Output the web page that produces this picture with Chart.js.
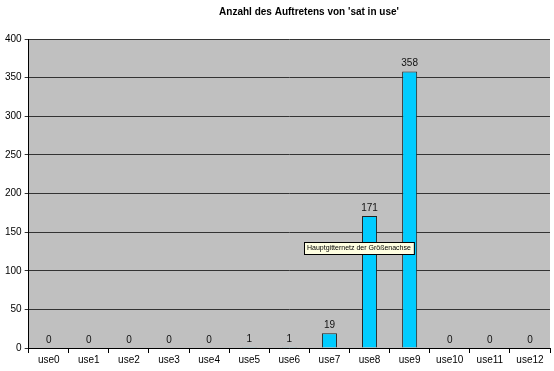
<!DOCTYPE html>
<html>
<head>
<meta charset="utf-8">
<script src="https://cdn.jsdelivr.net/npm/chart.js@4/dist/chart.umd.min.js"></script>
<style>
  html, body { margin: 0; padding: 0; background: #fff; }
  #c { display: block; }
</style>
</head>
<body>
<canvas id="c" width="554" height="371"></canvas>
<script>
  // Daten
  var categories = ["use0", "use1", "use2", "use3", "use4", "use5", "use6",
    "use7", "use8", "use9", "use10", "use11", "use12"];
  var counts = [0, 0, 0, 0, 0, 1, 1, 19, 171, 358, 0, 0, 0];
  var yTicks = [0, 50, 100, 150, 200, 250, 300, 350, 400];
  var titleText = "Anzahl des Auftretens von 'sat in use'";
  var hintText = "Hauptgitternetz der Größenachse";

  var FONT = "'Liberation Sans', Arial, sans-serif";

  // Grauer Plotbereich, Titel, Werte über den Balken, Tooltip-Kasten
  var excelLook = {
    id: "excelLook",
    beforeDraw: function (chart) {
      var a = chart.chartArea, ctx = chart.ctx;
      ctx.save();
      ctx.fillStyle = "#c0c0c0";
      ctx.fillRect(a.left, a.top, a.right - a.left, a.bottom - a.top);
      ctx.restore();
    },
    afterDraw: function (chart) {
      var ctx = chart.ctx;
      var meta = chart.getDatasetMeta(0);
      ctx.save();
      ctx.fillStyle = "#000";
      ctx.textAlign = "center";
      ctx.textBaseline = "alphabetic";
      ctx.font = "bold 10px " + FONT;
      ctx.fillText(titleText, 309, 15);

      ctx.font = "10px " + FONT;
      ctx.fillStyle = "#111";
      meta.data.forEach(function (bar, i) {
        ctx.fillText(String(counts[i]), bar.x, bar.y - 5);
      });

      // Hinweis-Kasten
      ctx.font = "7px " + FONT;
      var w = ctx.measureText(hintText).width + 6;
      var x0 = 304, y0 = 242;
      ctx.fillStyle = "#ffffe1";
      ctx.fillRect(x0, y0, w, 12);
      ctx.strokeStyle = "#000";
      ctx.lineWidth = 1;
      ctx.strokeRect(x0 + 0.5, y0 + 0.5, w, 12);
      ctx.fillStyle = "#000";
      ctx.textAlign = "left";
      ctx.textBaseline = "middle";
      ctx.fillText(hintText, x0 + 3, y0 + 6.5);
      ctx.restore();
    }
  };

  new Chart(document.getElementById("c"), {
    type: "bar",
    data: {
      labels: categories,
      datasets: [{
        data: counts,
        backgroundColor: "#00ccff",
        borderColor: "#222",
        borderWidth: 1,
        barPercentage: 0.75,
        categoryPercentage: 0.5
      }]
    },
    options: {
      responsive: false,
      animation: false,
      events: [],
      layout: { padding: { top: 39, right: 4, bottom: 4, left: 2 } },
      plugins: {
        legend: { display: false },
        tooltip: { enabled: false },
        title: { display: false }
      },
      scales: {
        x: {
          grid: {
            offset: true,
            drawOnChartArea: false,
            drawTicks: true,
            tickLength: 5,
            color: "#000"
          },
          border: { color: "#000" },
          ticks: {
            color: "#000",
            font: { family: FONT, size: 10 },
            padding: 1,
            maxRotation: 0
          }
        },
        y: {
          min: 0,
          max: 400,
          afterBuildTicks: function (axis) {
            axis.ticks = yTicks.map(function (v) { return { value: v }; });
          },
          grid: { color: "#333", tickLength: 4 },
          border: { color: "#000" },
          ticks: {
            color: "#000",
            font: { family: FONT, size: 10 },
            padding: 3
          }
        }
      }
    },
    plugins: [excelLook]
  });
</script>
</body>
</html>
